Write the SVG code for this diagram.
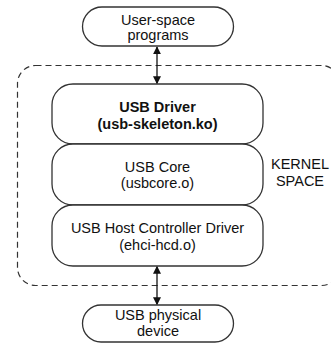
<svg xmlns="http://www.w3.org/2000/svg" width="331" height="343" viewBox="0 0 331 343">
<defs>
<style>
.box{fill:#fff;stroke:#333;stroke-width:1.3}
.t{font-family:"Liberation Sans",Arial,Helvetica,sans-serif;font-size:14.5px;fill:#111;text-anchor:middle}
.b{font-weight:bold}
.dash{fill:none;stroke:#333;stroke-width:1.2;stroke-dasharray:6 4}
.con{stroke:#111;stroke-width:1.3;fill:none}
</style>
<marker id="ah" viewBox="0 0 10 10" refX="9" refY="5" markerWidth="8" markerHeight="9" markerUnits="userSpaceOnUse" orient="auto-start-reverse">
<path d="M0,0 L10,5 L0,10 z" fill="#111"/>
</marker>
</defs>
<g id="kernel-space">
<rect class="dash" x="17.5" y="65.5" width="322" height="220" rx="18"/>
<text class="t" x="300" y="169">KERNEL</text>
<text class="t" x="300" y="186">SPACE</text>
</g>
<g id="connectors">
<line class="con" x1="157" y1="47" x2="157" y2="83.5" marker-start="url(#ah)" marker-end="url(#ah)"/>
<line class="con" x1="157" y1="266.5" x2="157" y2="304.5" marker-start="url(#ah)" marker-end="url(#ah)"/>
</g>
<g id="user-space">
<rect class="box" x="82.5" y="7" width="151" height="39" rx="19.5"/>
<text class="t" x="158" y="25">User-space</text>
<text class="t" x="158" y="40">programs</text>
</g>
<g id="usb-driver">
<rect class="box" x="52" y="84" width="211" height="60" rx="21"/>
<text class="t b" x="157.5" y="112">USB Driver</text>
<text class="t b" x="157.5" y="129">(usb-skeleton.ko)</text>
</g>
<g id="usb-core">
<rect class="box" x="52" y="144" width="211" height="61" rx="21"/>
<text class="t" x="157.5" y="171.5">USB Core</text>
<text class="t" x="157.5" y="188">(usbcore.o)</text>
</g>
<g id="usb-hcd">
<rect class="box" x="52" y="205" width="211" height="61" rx="21"/>
<text class="t" x="157.5" y="233">USB Host Controller Driver</text>
<text class="t" x="157.5" y="250">(ehci-hcd.o)</text>
</g>
<g id="usb-device">
<rect class="box" x="82.5" y="305" width="151" height="37" rx="18.5"/>
<text class="t" x="158" y="320">USB physical</text>
<text class="t" x="158" y="336">device</text>
</g>
</svg>
